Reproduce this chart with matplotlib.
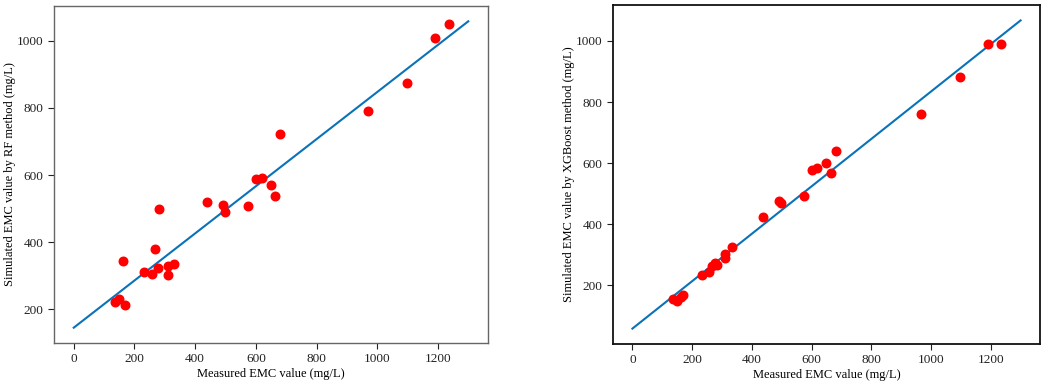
import matplotlib.pyplot as plt

plt.rcParams["font.family"] = ["Liberation Serif", "DejaVu Serif"]

# measured EMC values (mg/L), shared by both panels
measured = [135, 149, 163, 170, 233, 258, 268, 277, 282, 310, 311, 332,
            439, 492, 497, 573, 601, 619, 649, 664, 681, 968, 1097, 1190, 1236]

# simulated values
rf_sim = [222, 230, 343, 213, 312, 305, 378, 324, 499, 330, 302, 336,
          519, 511, 489, 508, 588, 590, 569, 536, 721, 790, 873, 1009, 1049]
xgb_sim = [156, 149, 162, 168, 233, 245, 263, 274, 267, 304, 290, 325,
           424, 477, 470, 492, 577, 585, 601, 568, 640, 760, 883, 991, 991]

# fitted lines (end points)
fit_x = [0, 1300]
rf_fit = [145, 1058]
xgb_fit = [59, 1067]

fig = plt.figure(figsize=(10.52, 3.84), dpi=100)
ax1 = fig.add_axes([54 / 1052, 1 - 343 / 384, 434 / 1052, 337 / 384])
ax2 = fig.add_axes([613 / 1052, 1 - 344 / 384, 427 / 1052, 339 / 384])

panels = [
    (ax1, rf_sim, rf_fit, "Simulated EMC value by RF method (mg/L)", "#666666", 1.0),
    (ax2, xgb_sim, xgb_fit, "Simulated EMC value by XGBoost method (mg/L)", "#111111", 1.3),
]

for ax, sim, fit, ylabel, edge, lw in panels:
    ax.plot(fit_x, fit, color="#0a72b8", lw=1.5, zorder=2)
    ax.scatter(measured, sim, s=38, color="#ff0000", zorder=3)
    ax.set_xticks([0, 200, 400, 600, 800, 1000, 1200])
    ax.set_yticks([200, 400, 600, 800, 1000])
    ax.tick_params(labelsize=9.5, colors="#222222", length=4)
    ax.set_xlabel("Measured EMC value (mg/L)", fontsize=9, labelpad=2)
    ax.set_ylabel(ylabel, fontsize=9, labelpad=0.5)
    for sp in ax.spines.values():
        sp.set_color(edge)
        sp.set_linewidth(lw)

fig.savefig("out.png", dpi=100)
